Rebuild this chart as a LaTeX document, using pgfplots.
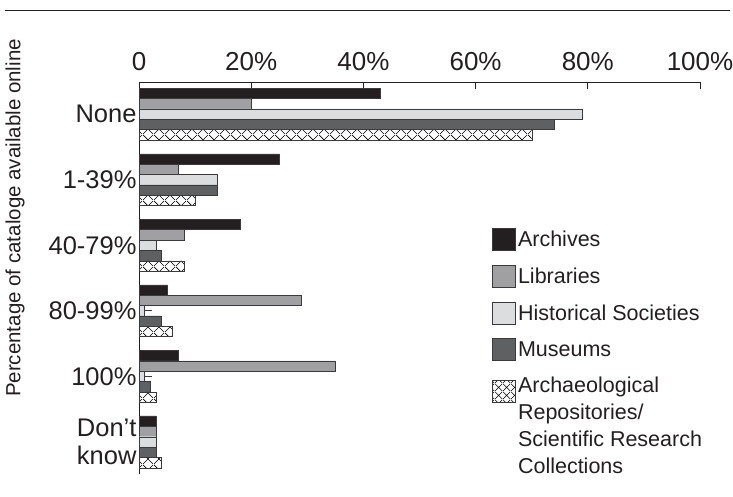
\documentclass[border=0pt]{standalone}
\usepackage{pgfplots}
\pgfplotsset{compat=1.18}
\usepackage{pgfplotstable}
\usepackage{fontspec}
\setmainfont{Liberation Sans}
\usetikzlibrary{patterns}

\definecolor{cArch}{HTML}{231F20}
\definecolor{cLib}{HTML}{A0A0A2}
\definecolor{cHist}{HTML}{DCDDDF}
\definecolor{cMus}{HTML}{5F6062}
\definecolor{cEdge}{HTML}{3A3A3C}

\pgfdeclarepatternformonly{diagcross}{\pgfpointorigin}{\pgfqpoint{11bp}{11bp}}{\pgfqpoint{11bp}{11bp}}{%
  \pgfsetlinewidth{0.6bp}%
  \pgfpathmoveto{\pgfpointorigin}\pgfpathlineto{\pgfqpoint{11bp}{11bp}}%
  \pgfpathmoveto{\pgfqpoint{0bp}{11bp}}\pgfpathlineto{\pgfqpoint{11bp}{0bp}}%
  \pgfusepath{stroke}}
\pgfdeclarepatternformonly{diagcrosssmall}{\pgfpointorigin}{\pgfqpoint{7.5bp}{7.5bp}}{\pgfqpoint{7.5bp}{7.5bp}}{%
  \pgfsetlinewidth{0.6bp}%
  \pgfpathmoveto{\pgfpointorigin}\pgfpathlineto{\pgfqpoint{7.5bp}{7.5bp}}%
  \pgfpathmoveto{\pgfqpoint{0bp}{7.5bp}}\pgfpathlineto{\pgfqpoint{7.5bp}{0bp}}%
  \pgfusepath{stroke}}

% 0 None, 1 1-39%, 2 40-79%, 3 80-99%, 4 100%, 5 Don't know
\pgfplotstableread{
cat arch lib hist histerr mus rep
0   43   20  79   0       74  70
1   25   7   14   0       14  10
2   18   8   3    0       4   8
3   5    29  1    1.3     4   6
4   7    35  1    1.3     2   3
5   3    3   3    0       3   4
}\datatable

\begin{document}
\begin{tikzpicture}
\path[use as bounding box] (0,0) rectangle (733bp,497bp);
\draw[line width=1.5bp, color=cArch] (5bp,486.3bp) -- (730bp,486.3bp);
\begin{axis}[
  at={(139bp,415bp)}, anchor=north west,
  scale only axis, width=561bp, height=392bp,
  xbar, bar width=0.158,
  xmin=0, xmax=100,
  ymin=-0.49, ymax=5.49, y dir=reverse,
  axis x line=top, axis y line=left,
  axis line style={-, line width=1bp, color=cArch},
  xtick={0,20,40,60,80,100},
  xticklabels={0,20\%,40\%,60\%,80\%,100\%},
  tick align=inside, major tick length=7bp,
  xtick style={line width=1bp, color=cArch},
  ytick={0,1,2,3,4,5},
  yticklabels={None,1-39\%,40-79\%,80-99\%,100\%,{Don’t\\know}},
  ytick style={draw=none},
  x tick label style={font=\fontsize{26bp}{30bp}\selectfont, color=cArch, yshift=8bp},
  y tick label style={font=\fontsize{25.5bp}{28bp}\selectfont, color=cArch, align=center, xshift=1bp},
  ylabel={Percentage of cataloge available online},
  ylabel style={at={(axis description cs:-0.221,0.653)}, anchor=center,
    font=\fontsize{20.5bp}{22bp}\selectfont, color=cArch},
  legend cell align=left,
  legend image code/.code={\draw[#1, line width=0.8bp] (0bp,-11bp) rectangle (23bp,11bp);},
  legend style={at={(axis description cs:0.624,0.633)}, anchor=north west,
    draw=none, fill=none, row sep=14bp,
    font=\fontsize{21.5bp}{27bp}\selectfont, text=cArch,
    nodes={align=left}},
]
\addplot[bar shift=-0.316, fill=cArch, draw=cEdge] table[x=arch, y=cat] {\datatable};
\addlegendentry{Archives}
\addplot[bar shift=-0.158, fill=cLib, draw=cEdge] table[x=lib, y=cat] {\datatable};
\addlegendentry{Libraries}
\addplot[bar shift=0, fill=cHist, draw=cEdge,
  error bars/.cd, x dir=plus, x explicit, error mark=none,
  error bar style={line width=1bp, color=cEdge}]
  table[x=hist, y=cat, x error=histerr] {\datatable};
\addlegendentry{Historical Societies}
\addplot[bar shift=0.158, fill=cMus, draw=cEdge] table[x=mus, y=cat] {\datatable};
\addlegendentry{Museums}
\addplot[bar shift=0.316, pattern=diagcross, draw=cEdge,
  legend image code/.code={\draw[pattern=diagcrosssmall, draw=cEdge, line width=0.8bp] (0bp,24bp) rectangle (23bp,46bp);}]
  table[x=rep, y=cat] {\datatable};
\addlegendentry{Archaeological\\Repositories/\\Scientific Research\\Collections}
\end{axis}
\end{tikzpicture}
\end{document}
